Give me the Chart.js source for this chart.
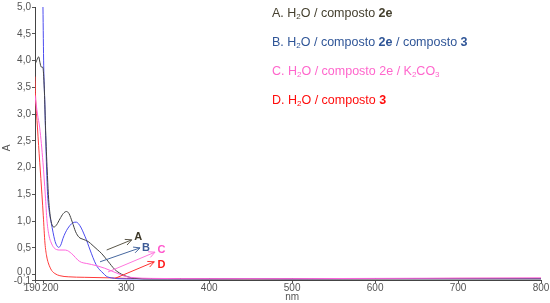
<!DOCTYPE html>
<html>
<head>
<meta charset="utf-8">
<script src="https://cdn.jsdelivr.net/npm/chart.js@4.4.1/dist/chart.umd.min.js"></script>
<style>
html,body{margin:0;padding:0;background:#fff;}
#wrap{width:550px;height:303px;position:relative;}
</style>
</head>
<body>
<div id="wrap"><canvas id="c" width="550" height="303"></canvas></div>
<script>
// ---- data ----
const xTicks = [190, 200, 300, 400, 500, 600, 700, 800];
const yTicks = [-0.1, 0, 0.5, 1.0, 1.5, 2.0, 2.5, 3.0, 3.5, 4.0, 4.5, 5.0];

// A. H2O / composto 2e
const nmA = [190, 192, 194.5, 196, 197.5, 199.5, 200.5, 201.5, 203, 205, 206.5, 208.5, 210.5, 213, 216, 220, 224, 228, 231, 235, 239, 243, 248, 254, 260, 265, 270, 278, 286, 294, 302, 310, 330, 400, 500, 600, 700, 800];
const absA = [3.93, 4.0, 4.07, 3.96, 3.88, 3.87, 3.7, 3.35, 2.6, 1.85, 1.4, 1.08, 0.93, 0.89, 0.93, 1.04, 1.14, 1.18, 1.14, 0.98, 0.8, 0.7, 0.66, 0.62, 0.54, 0.47, 0.4, 0.25, 0.1, 0.01, -0.04, -0.07, -0.08, -0.08, -0.08, -0.08, -0.08, -0.08];

// B. H2O / composto 2e / composto 3
const nmB = [199.6, 200.5, 201.7, 203, 205, 207, 209.7, 213.7, 216, 218.5, 221, 223.8, 226.5, 229.8, 234, 238, 240, 242.5, 245.8, 249, 252, 255, 257.9, 262, 265, 268, 272, 276, 282, 290, 300, 350, 400, 450, 500, 600, 700, 800];
const absB = [5.0, 3.9, 3.27, 2.5, 1.55, 1.2, 0.96, 0.65, 0.55, 0.51, 0.55, 0.68, 0.78, 0.87, 0.95, 0.98, 0.98, 0.95, 0.87, 0.76, 0.65, 0.52, 0.4, 0.24, 0.15, 0.09, 0.03, -0.03, -0.06, -0.075, -0.08, -0.08, -0.08, -0.075, -0.08, -0.075, -0.075, -0.075];

// C. H2O / composto 2e / K2CO3
const nmC = [190, 193, 195.7, 199.6, 202.4, 204.5, 207, 209.7, 212, 215.7, 220, 225, 229, 235.8, 241.8, 246, 251.8, 258, 266, 274, 282, 290, 298, 308, 330, 400, 500, 600, 700, 800];
const absC = [3.35, 3.0, 2.74, 2.1, 1.49, 1.0, 0.72, 0.59, 0.52, 0.47, 0.46, 0.46, 0.45, 0.37, 0.27, 0.23, 0.21, 0.19, 0.16, 0.12, 0.07, 0.02, -0.03, -0.055, -0.07, -0.075, -0.075, -0.07, -0.065, -0.06];

// D. H2O / composto 3
const nmD = [190, 190.5, 193, 195.7, 198.4, 200, 202, 204, 206, 208, 210, 214, 220, 230, 250, 280, 300, 350, 400, 500, 600, 700, 800];
const absD = [3.7, 3.4, 2.74, 2.1, 1.49, 1.1, 0.59, 0.35, 0.22, 0.14, 0.08, 0.02, -0.02, -0.04, -0.05, -0.06, -0.07, -0.075, -0.078, -0.078, -0.075, -0.07, -0.07];

// arrow annotations (data coordinates) and their letters
const arrowLetters = ['A', 'B', 'C', 'D'];
const arrowFromNm = [276.4, 268.4, 278, 286.4];
const arrowFromAbs = [0.46, 0.24, 0.05, -0.07];
const arrowToNm = [306.6, 316.6, 334.7, 333.8];
const arrowToAbs = [0.65, 0.50, 0.42, 0.24];
const letterNm = [314.5, 323.8, 342.5, 342.5];
const letterAbs = [0.71, 0.50, 0.46, 0.19];

const seriesColors = ['#404040', '#4b4bef', '#ff66dd', '#ff3a3a'];
const arrowColors = ['#5a5648', '#47689f', '#ff77dd', '#ff3333'];
const letterColors = ['#3d3828', '#3c5a96', '#ff55cc', '#ff1a1a'];

// legend text (rich: [text, bold, subscript])
const legendLines = [
  {color: '#45402f', parts: [['A. H', 0, 0], ['2', 0, 1], ['O / composto ', 0, 0], ['2e', 1, 0]]},
  {color: '#2f5597', parts: [['B. H', 0, 0], ['2', 0, 1], ['O / composto ', 0, 0], ['2e', 1, 0], [' / composto ', 0, 0], ['3', 1, 0]]},
  {color: '#ff66cc', parts: [['C. H', 0, 0], ['2', 0, 1], ['O / composto 2e / K', 0, 0], ['2', 0, 1], ['CO', 0, 0], ['3', 0, 1]]},
  {color: '#ff0d0d', parts: [['D. H', 0, 0], ['2', 0, 1], ['O / composto ', 0, 0], ['3', 1, 0]]}
];

function pts(xs, ys) { return xs.map((x, i) => ({x: x, y: ys[i]})); }

const FONT = '"Liberation Sans", Arial, sans-serif';

const decor = {
  id: 'decor',
  afterDraw(chart) {
    const ctx = chart.ctx;
    const xs = chart.scales.x, ys = chart.scales.y;
    ctx.save();
    // y tick labels
    ctx.font = '10px ' + FONT;
    ctx.fillStyle = '#555';
    ctx.textAlign = 'right';
    ctx.textBaseline = 'middle';
    yTicks.forEach(v => {
      let y = ys.getPixelForValue(v);
      if (v === 0) y -= 2;
      if (v < 0) y += 1.5;
      ctx.fillText(v.toFixed(1).replace('.', ','), 31, y);
    });
    // x tick labels
    ctx.textAlign = 'center';
    ctx.textBaseline = 'top';
    xTicks.forEach(v => {
      let x = xs.getPixelForValue(v);
      if (v === 190) x -= 3;
      if (v === 200) x += 7;
      ctx.fillText(String(v), x, chart.chartArea.bottom + 3);
    });
    ctx.fillText('nm', xs.getPixelForValue(500), chart.chartArea.bottom + 12);
    // y axis title
    ctx.save();
    ctx.translate(7, 148);
    ctx.rotate(-Math.PI / 2);
    ctx.textBaseline = 'middle';
    ctx.fillText('A', 0, 0);
    ctx.restore();

    // arrows
    arrowLetters.forEach((L, i) => {
      const x1 = xs.getPixelForValue(arrowFromNm[i]), y1 = ys.getPixelForValue(arrowFromAbs[i]);
      const x2 = xs.getPixelForValue(arrowToNm[i]), y2 = ys.getPixelForValue(arrowToAbs[i]);
      ctx.strokeStyle = arrowColors[i];
      ctx.lineWidth = 1;
      ctx.beginPath();
      ctx.moveTo(x1, y1); ctx.lineTo(x2, y2);
      const ang = Math.atan2(y2 - y1, x2 - x1);
      const h = 7;
      ctx.moveTo(x2 - h * Math.cos(ang - 0.45), y2 - h * Math.sin(ang - 0.45));
      ctx.lineTo(x2, y2);
      ctx.lineTo(x2 - h * Math.cos(ang + 0.45), y2 - h * Math.sin(ang + 0.45));
      ctx.stroke();
      ctx.fillStyle = letterColors[i];
      ctx.font = 'bold 11px ' + FONT;
      ctx.textAlign = 'center';
      ctx.textBaseline = 'middle';
      ctx.fillText(L, xs.getPixelForValue(letterNm[i]), ys.getPixelForValue(letterAbs[i]));
    });

    // legend text
    const lx = 272, baselines = [17, 46, 75, 104];
    legendLines.forEach((ln, i) => {
      let x = lx;
      ctx.fillStyle = ln.color;
      ctx.textAlign = 'left';
      ctx.textBaseline = 'alphabetic';
      ln.parts.forEach(p => {
        const [t, b, s] = p;
        ctx.font = (b ? 'bold ' : '') + (s ? '8px ' : '12.5px ') + FONT;
        ctx.fillText(t, x, baselines[i] + (s ? 2 : 0));
        x += ctx.measureText(t).width;
      });
    });
    ctx.restore();
  }
};

new Chart(document.getElementById('c'), {
  type: 'scatter',
  data: {
    datasets: [
      {label: 'C', data: pts(nmC, absC), borderColor: seriesColors[2]},
      {label: 'A', data: pts(nmA, absA), borderColor: seriesColors[0]},
      {label: 'B', data: pts(nmB, absB), borderColor: seriesColors[1]},
      {label: 'D', data: pts(nmD, absD), borderColor: seriesColors[3]}
    ].map(d => Object.assign(d, {showLine: true, pointRadius: 0, borderWidth: 1, cubicInterpolationMode: 'monotone', fill: false}))
  },
  options: {
    responsive: false,
    animation: false,
    events: [],
    layout: {padding: {top: 7, right: 9, left: 0, bottom: 0}},
    plugins: {legend: {display: false}, tooltip: {enabled: false}},
    scales: {
      x: {
        type: 'linear', min: 190, max: 800,
        afterBuildTicks: s => { s.ticks = xTicks.map(v => ({value: v})); },
        afterFit: s => { s.height = 23; },
        ticks: {display: false},
        grid: {display: true, drawOnChartArea: false, drawTicks: true, tickLength: 3, color: '#555'},
        border: {display: true, color: '#444', width: 1}
      },
      y: {
        type: 'linear', min: -0.1, max: 5.0,
        afterBuildTicks: s => { s.ticks = yTicks.map(v => ({value: v})); },
        afterFit: s => { s.width = 35; },
        ticks: {display: false},
        grid: {display: true, drawOnChartArea: false, drawTicks: true, tickLength: 3, color: '#555'},
        border: {display: true, color: '#444', width: 1}
      }
    }
  },
  plugins: [decor]
});
</script>
</body>
</html>
